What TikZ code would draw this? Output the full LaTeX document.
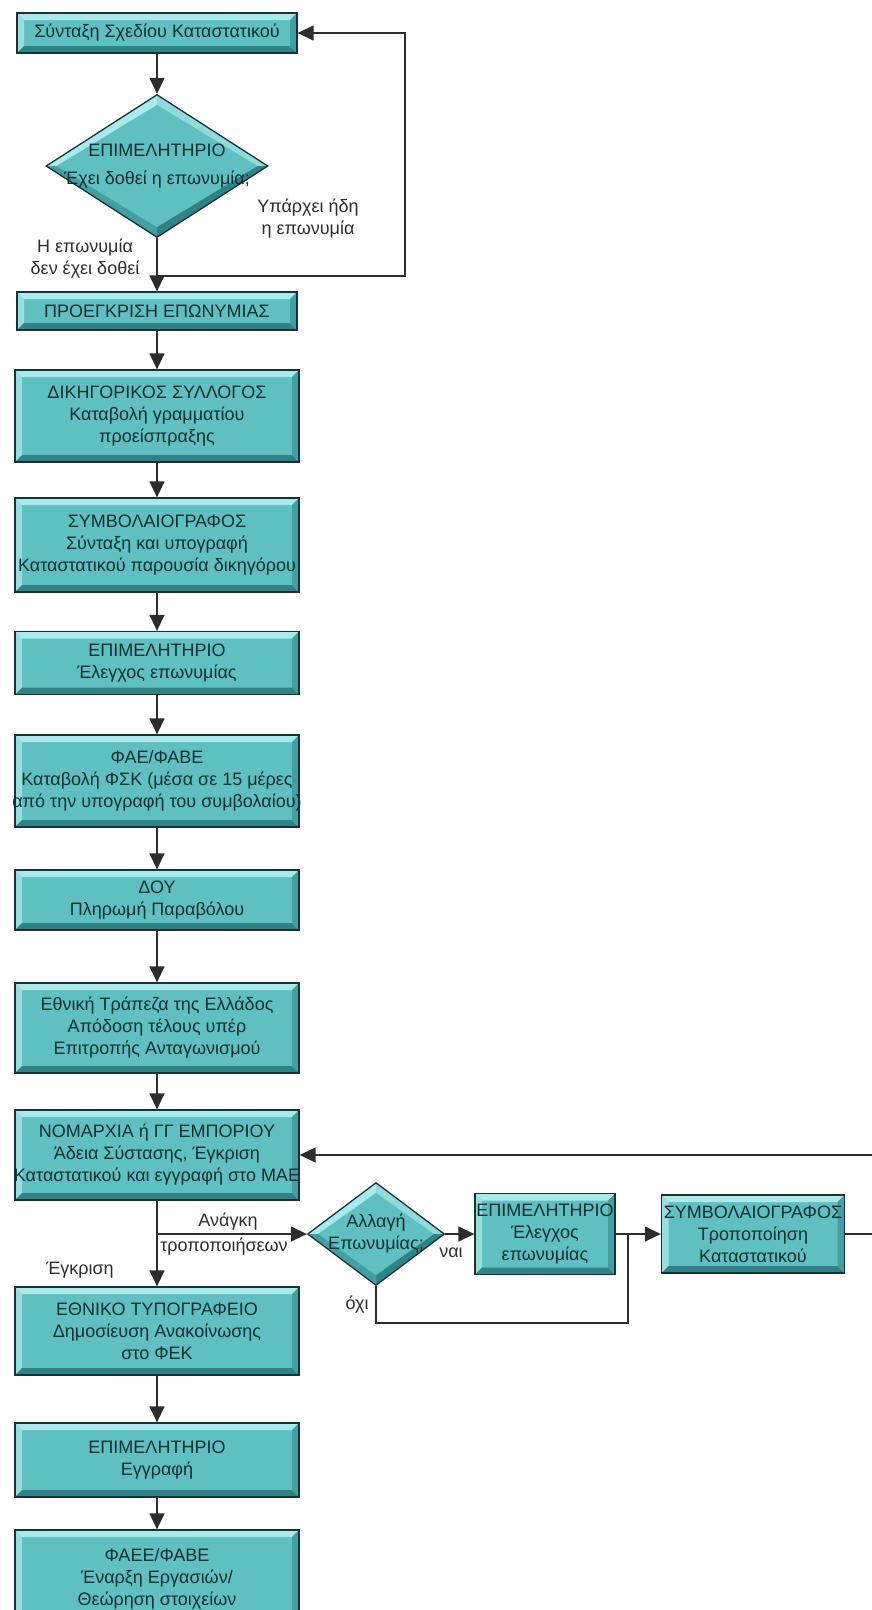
\documentclass[tikz,border=0pt]{standalone}
\usepackage{fontspec}
\setmainfont{Liberation Sans}
\usetikzlibrary{arrows.meta,shapes.geometric}

\definecolor{boxfill}{RGB}{94,192,192}
\definecolor{boxlight}{RGB}{170,234,234}
\definecolor{boxdark}{RGB}{44,132,134}
\definecolor{boxmid}{RGB}{66,160,162}
\definecolor{boxline}{RGB}{26,50,52}
\definecolor{boxtext}{RGB}{16,46,52}
\definecolor{linegray}{RGB}{45,45,45}

\newcommand{\boxfont}{\fontsize{18}{22}\selectfont}
\newcommand{\wide}[1]{\makebox[260pt]{#1}}
\newcommand{\dtext}[1]{\smash{\makebox[0pt]{\raisebox{-4pt}{\begin{tabular}{@{}c@{}}#1\end{tabular}}}}}
\newcommand{\boxbevel}{%
  \fill[boxlight] (path picture bounding box.north west) -- (path picture bounding box.north east) -- ([shift={(-7pt,-7pt)}]path picture bounding box.north east) -- ([shift={(7pt,-7pt)}]path picture bounding box.north west) -- cycle;
  \fill[boxlight!75!boxfill] (path picture bounding box.north west) -- (path picture bounding box.south west) -- ([shift={(7pt,7pt)}]path picture bounding box.south west) -- ([shift={(7pt,-7pt)}]path picture bounding box.north west) -- cycle;
  \fill[boxdark] (path picture bounding box.south west) -- (path picture bounding box.south east) -- ([shift={(-7pt,7pt)}]path picture bounding box.south east) -- ([shift={(7pt,7pt)}]path picture bounding box.south west) -- cycle;
  \fill[boxmid] (path picture bounding box.north east) -- (path picture bounding box.south east) -- ([shift={(-7pt,7pt)}]path picture bounding box.south east) -- ([shift={(-7pt,-7pt)}]path picture bounding box.north east) -- cycle;}
\newcommand{\diabevel}{%
  \fill[boxlight] (path picture bounding box.west) -- (path picture bounding box.north) -- ([yshift=-10pt]path picture bounding box.north) -- ([xshift=10pt]path picture bounding box.west) -- cycle;
  \fill[boxlight!65!boxfill] (path picture bounding box.north) -- (path picture bounding box.east) -- ([xshift=-10pt]path picture bounding box.east) -- ([yshift=-10pt]path picture bounding box.north) -- cycle;
  \fill[boxdark] (path picture bounding box.east) -- (path picture bounding box.south) -- ([yshift=10pt]path picture bounding box.south) -- ([xshift=-10pt]path picture bounding box.east) -- cycle;
  \fill[boxmid] (path picture bounding box.south) -- (path picture bounding box.west) -- ([xshift=10pt]path picture bounding box.west) -- ([yshift=10pt]path picture bounding box.south) -- cycle;}

\begin{document}
\begin{tikzpicture}[x=1pt,y=-1pt,
    stepbox/.style={rectangle, draw=boxline, line width=1.3pt, fill=boxfill, text=boxtext,
      align=center, inner sep=2pt, minimum width=284pt, font=\boxfont, path picture={\boxbevel}},
    decbox/.style={diamond, draw=boxline, line width=1.3pt, fill=boxfill, text=boxtext,
      inner sep=0pt, font=\boxfont, path picture={\diabevel}},
    lbl/.style={text=linegray, font=\boxfont, align=center, inner sep=0pt},
    ln/.style={draw=linegray, line width=1.4pt},
    arr/.style={ln, -{Triangle[length=16pt,width=15pt]}}]
\useasboundingbox (0,0) rectangle (872,1610);
\fill[white] (0,0) rectangle (872,1610);
\clip (0,0) rectangle (872,1610);

% main column
\node[stepbox, minimum width=280pt, minimum height=40pt] (n1) at (157,33) {Σύνταξη Σχεδίου Καταστατικού};
\node[decbox, minimum width=222pt, minimum height=143pt] (d1) at (157,166) {\dtext{ΕΠΙΜΕΛΗΤΗΡΙΟ\\[6pt]Έχει δοθεί η επωνυμία;}};
\node[stepbox, minimum width=280pt, minimum height=38pt] (n2) at (157,311) {ΠΡΟΕΓΚΡΙΣΗ ΕΠΩΝΥΜΙΑΣ};
\node[stepbox, minimum height=92pt] (n3) at (157,416) {ΔΙΚΗΓΟΡΙΚΟΣ ΣΥΛΛΟΓΟΣ\\Καταβολή γραμματίου\\προείσπραξης};
\node[stepbox, minimum height=94pt] (n4) at (157,545) {ΣΥΜΒΟΛΑΙΟΓΡΑΦΟΣ\\Σύνταξη και υπογραφή\\\wide{Καταστατικού παρουσία δικηγόρου}};
\node[stepbox, minimum height=63pt] (n5) at (157,663) {ΕΠΙΜΕΛΗΤΗΡΙΟ\\Έλεγχος επωνυμίας};
\node[stepbox, minimum height=92pt] (n6) at (157,781) {ΦΑΕ/ΦΑΒΕ\\\wide{Καταβολή ΦΣΚ (μέσα σε 15 μέρες}\\\wide{από την υπογραφή του συμβολαίου)}};
\node[stepbox, minimum height=60pt] (n7) at (157,900) {ΔΟΥ\\Πληρωμή Παραβόλου};
\node[stepbox, minimum height=90pt] (n8) at (157,1028) {Εθνική Τράπεζα της Ελλάδος\\Απόδοση τέλους υπέρ\\Επιτροπής Ανταγωνισμού};
\node[stepbox, minimum height=90pt] (n9) at (157,1155) {ΝΟΜΑΡΧΙΑ ή ΓΓ ΕΜΠΟΡΙΟΥ\\Άδεια Σύστασης, Έγκριση\\\wide{Καταστατικού και εγγραφή στο ΜΑΕ}};
\node[stepbox, minimum height=88pt] (n10) at (157,1331) {ΕΘΝΙΚΟ ΤΥΠΟΓΡΑΦΕΙΟ\\Δημοσίευση Ανακοίνωσης\\στο ΦΕΚ};
\node[stepbox, minimum height=74pt] (n11) at (157,1460) {ΕΠΙΜΕΛΗΤΗΡΙΟ\\Εγγραφή};
\node[stepbox, minimum height=98pt] (n12) at (157,1579) {ΦΑΕΕ/ΦΑΒΕ\\Έναρξη Εργασιών/\\Θεώρηση στοιχείων};

% side branch
\node[decbox, minimum width=137pt, minimum height=103pt] (d2) at (376,1234) {\dtext{Αλλαγή\\Επωνυμίας;}};
\node[stepbox, minimum width=140pt, minimum height=81pt] (n13) at (545,1234) {\makebox[130pt]{ΕΠΙΜΕΛΗΤΗΡΙΟ}\\Έλεγχος\\επωνυμίας};
\node[stepbox, minimum width=183pt, minimum height=78pt] (n14) at (753,1234) {\makebox[170pt]{ΣΥΜΒΟΛΑΙΟΓΡΑΦΟΣ}\\Τροποποίηση\\Καταστατικού};

% labels
\node[lbl] (l1) at (308,219) {Υπάρχει ήδη\\η επωνυμία};
\node[lbl] (l2) at (85,259) {Η επωνυμία\\δεν έχει δοθεί};
\node[lbl] (l3) at (228,1222) {Ανάγκη};
\node[lbl] (l4) at (224,1247) {τροποποιήσεων};
\node[lbl] (l5) at (80,1270) {Έγκριση};
\node[lbl] (l6) at (451,1253) {ναι};
\node[lbl] (l7) at (357,1305) {όχι};

% connectors
\coordinate (c1) at (157,276);
\coordinate (c2) at (405,276);
\coordinate (c3) at (157,1234);
\coordinate (c4) at (628,1234);
\coordinate (c5) at (628,1323);
\coordinate (c6) at (873,1234);
\coordinate (c7) at (873,1155);
\foreach \a/\b in {n1/d1,d1/n2,n2/n3,n3/n4,n4/n5,n5/n6,n6/n7,n7/n8,n8/n9,n9/n10,n10/n11,n11/n12}
  \draw[arr] (\a) -- (\b);
\draw[arr] (c1) -- (c2) |- (n1.east);
\draw[arr] (c3) -- (d2.west);
\draw[arr] (d2.east) -- (n13.west);
\draw[arr] (n13.east) -- (n14.west);
\draw[ln] (d2.south) |- (c5) -- (c4);
\draw[arr] (n14.east) -- (c6) -- (c7) -- (n9.east);
\end{tikzpicture}
\end{document}
